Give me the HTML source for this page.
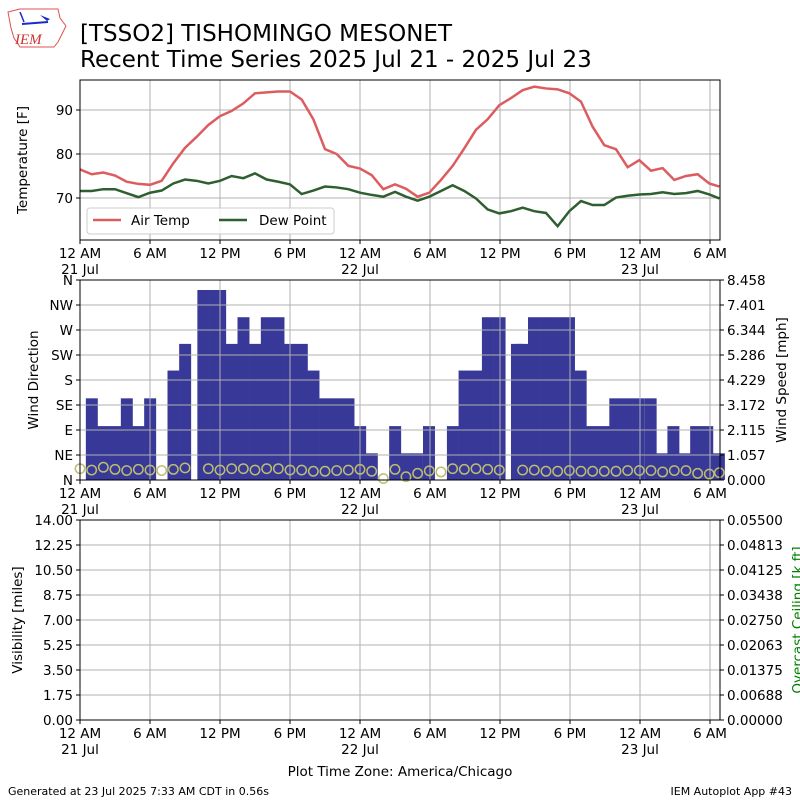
<!DOCTYPE html>
<html><head><meta charset="utf-8"><style>
body{margin:0;background:#fff}
svg{display:block;font-family:"DejaVu Sans","Liberation Sans",sans-serif}
</style></head><body>
<svg id="c" width="800" height="800" viewBox="0 0 800 800" xmlns="http://www.w3.org/2000/svg">
<g>
<path d="M8 12 L20 9 L58 9 L60 18 L66 26 L62 34 L58 42 L54 47 L20 47 L14 38 L11 28 Z" fill="none" stroke="#e05050" stroke-width="1"/>
<line x1="22" y1="24" x2="48" y2="22" stroke="#1a2bc8" stroke-width="2"/>
<line x1="20" y1="12" x2="24" y2="22" stroke="#1a2bc8" stroke-width="1.5"/>
<path d="M40 15 L50 19 L47 21 Z" fill="#1a2bc8"/>
<text x="15" y="44" font-family="Liberation Serif,serif" font-style="italic" font-size="15" fill="#d03030">IEM</text>
</g>
<text x="80" y="41" font-size="23" fill="#000">[TSSO2] TISHOMINGO MESONET</text>
<text x="80" y="67" font-size="23" fill="#000">Recent Time Series 2025 Jul 21 - 2025 Jul 23</text>
<g id="p1"></g>
<g id="p2"></g>
<g id="p3"></g>
<text x="400" y="776" text-anchor="middle" font-size="13.5">Plot Time Zone: America/Chicago</text>
<text x="8" y="795" font-size="11">Generated at 23 Jul 2025 7:33 AM CDT in 0.56s</text>
<text x="792" y="795" font-size="11" text-anchor="end">IEM Autoplot App #43</text>
</svg>
<script>
const tempTimes = [0,1,2,3,4,5,6,7,8,9,10,11,12,13,14,15,16,17,18,19,20,21,22,23,24,25,26,27,
27.94,28.94,29.94,30.94,31.94,32.94,33.94,34.94,35.94,36.94,37.94,38.94,39.94,40.94,41.94,42.94,43.94,44.94,45.94,46.94,47.94,48.94,49.94,50.94,51.94,52.94,53.94,54.8];
const airTemp = [76.5,75.4,75.8,75.1,73.7,73.2,73.0,73.9,77.9,81.4,83.9,86.6,88.6,89.8,91.5,93.8,94.0,94.2,94.2,92.4,87.9,81.1,80.0,77.3,76.7,75.2,72.0,73.1,
72.1,70.3,71.2,74.1,77.3,81.3,85.5,87.9,91.1,92.7,94.5,95.3,94.9,94.7,93.8,91.9,86.2,82.0,81.1,77.0,78.6,76.2,76.8,74.1,75.0,75.4,73.3,72.6];
const dewPoint = [71.6,71.6,72.0,72.0,71.1,70.2,71.2,71.7,73.3,74.2,73.9,73.3,73.9,75.0,74.5,75.6,74.2,73.7,73.1,70.9,71.7,72.6,72.4,72.0,71.2,70.7,70.3,71.4,
70.3,69.4,70.3,71.6,72.9,71.6,69.9,67.4,66.5,67.0,67.8,67.0,66.6,63.6,67.0,69.3,68.4,68.4,70.1,70.5,70.8,70.9,71.3,70.9,71.1,71.6,70.8,69.9];
const dirTimes = [1,2,3,4,5,6,8,9,10.56,11.56,12.0,13,14,15,16,17,18,19,20,21,22,23,24,25,27,27.93,28.87,29.9,31.95,32.95,33.95,34.95,35.95,37.44,37.9,38.9,39.9,40.9,41.9,42.9,43.9,44.87,45.87,46.87,47.87,48.9,49.9,50.85,51.8,52.8,53.75,54.75];
const windDir = [147,97,97,147,97,147,197,245,342,342,342,245,293,245,293,293,245,245,197,147,147,147,97,48,97,48,48,97,97,197,197,293,293,245,245,293,293,293,293,197,97,97,147,147,147,147,48,97,48,97,97,48];
const spdTimes = [0,1,2,3,4,5,6,7,8,9,11,12,13,14,15,16,17,18,19,20,21,22,23,24,25,26,27,
27.94,28.94,29.94,30.94,31.94,32.94,33.94,34.94,35.94,37.94,38.94,39.94,40.94,41.94,42.94,43.94,44.94,45.94,46.94,47.94,48.94,49.94,50.94,51.94,52.94,53.94,54.8];
const windSpd = [0.48,0.42,0.54,0.45,0.40,0.45,0.42,0.40,0.45,0.51,0.48,0.42,0.48,0.48,0.42,0.48,0.48,0.42,0.42,0.37,0.37,0.40,0.42,0.45,0.37,0.06,0.45,
0.14,0.28,0.39,0.34,0.48,0.45,0.48,0.45,0.42,0.42,0.42,0.37,0.37,0.40,0.37,0.37,0.37,0.37,0.40,0.40,0.40,0.34,0.40,0.40,0.28,0.25,0.31];
const xTickHours = [0,6,12,18,24,30,36,42,48,54];
const xTickLabels = ["12 AM","6 AM","12 PM","6 PM","12 AM","6 AM","12 PM","6 PM","12 AM","6 AM"];
const xTickDates = ["21 Jul","","","","22 Jul","","","","23 Jul",""];
const tempTicks = [70,80,90];
const dirTicks = [0,45,90,135,180,225,270,315,360];
const dirLabels = ["N","NE","E","SE","S","SW","W","NW","N"];
const spdTicks = ["0.000","1.057","2.115","3.172","4.229","5.286","6.344","7.401","8.458"];
const visTicks = ["0.00","1.75","3.50","5.25","7.00","8.75","10.50","12.25","14.00"];
const ceilTicks = ["0.00000","0.00688","0.01375","0.02063","0.02750","0.03438","0.04125","0.04813","0.05500"];

const NS="http://www.w3.org/2000/svg";
const L=80,R=720,XMAX=54.857;
const xs=h=>L+(h/XMAX)*(R-L);
function mk(tag,attrs,parent,txt){const e=document.createElementNS(NS,tag);for(const k in attrs)e.setAttribute(k,attrs[k]);if(txt!==undefined)e.textContent=txt;parent.appendChild(e);return e;}
function xaxis(g,top,bot){
  xTickHours.forEach((h,i)=>{
    const x=xs(h);
    const gl=mk('line',{x1:x,x2:x,y1:top,y2:bot,stroke:'#b0b0b0','stroke-width':1},g);
    
    
    mk('line',{x1:x,x2:x,y1:bot,y2:bot+4,stroke:'#000'},g);
    const t=mk('text',{x:x,y:bot+18,'text-anchor':'middle','font-size':13.5},g,xTickLabels[i]);
    
    
    if(xTickDates[i]){const d=mk('text',{x:x,y:bot+34,'text-anchor':'middle','font-size':13.5},g,xTickDates[i]);
      
      }
  });
}
function frame(g,top,bot){const f=mk('rect',{x:L,y:top,width:R-L,height:bot-top,fill:'none',stroke:'#000','stroke-width':1},g);
  
  }
function ylabel(g,x,cy,txt,name,color){const t=mk('text',{x:x,y:cy,'text-anchor':'middle','font-size':13.5,fill:color||'#000',transform:`rotate(-90 ${x} ${cy})`},g,txt);
  
  }

// Panel 1
(function(){
  const g=document.getElementById('p1'),T=80,B=240;
  const ys=v=>198-(v-70)*4.4;
  xaxis(g,T,B);
  tempTicks.forEach(v=>{const y=ys(v);
    const gl=mk('line',{x1:L,x2:R,y1:y,y2:y,stroke:'#b0b0b0'},g);
    
    
    mk('line',{x1:L-4,x2:L,y1:y,y2:y,stroke:'#000'},g);
    const t=mk('text',{x:L-7,y:y+5,'text-anchor':'end','font-size':13.5},g,String(v));
    
    });
  const clip=mk('clipPath',{id:'cp1'},g);mk('rect',{x:L,y:T,width:R-L,height:B-T},clip);
  const pa=tempTimes.map((h,i)=>xs(h)+','+ys(airTemp[i])).join(' ');
  const l1=mk('polyline',{points:pa,fill:'none',stroke:'#dc5c60','stroke-width':2.5,'clip-path':'url(#cp1)'},g);
  
  
  const pd=tempTimes.map((h,i)=>xs(h)+','+ys(dewPoint[i])).join(' ');
  const l2=mk('polyline',{points:pd,fill:'none',stroke:'#2f5f30','stroke-width':2.5,'clip-path':'url(#cp1)'},g);
  
  
  const lg=mk('g',{},g);
  
  
  mk('rect',{x:87,y:208,width:247,height:26,rx:3,fill:'#fff','fill-opacity':0.85,stroke:'#ccc'},lg);
  mk('line',{x1:93,x2:121,y1:220,y2:220,stroke:'#dc5c60','stroke-width':2.5},lg);
  const a=mk('text',{x:131,y:225,'font-size':13.5},lg,'Air Temp');
  
  
  mk('line',{x1:219,x2:247,y1:220,y2:220,stroke:'#2f5f30','stroke-width':2.5},lg);
  const d=mk('text',{x:259,y:225,'font-size':13.5},lg,'Dew Point');
  
  
  frame(g,T,B);
  ylabel(g,27,160,'Temperature [F]','y-axis-title-temperature');
})();

// Panel 2
(function(){
  const g=document.getElementById('p2'),T=280,B=480;
  const yd=v=>B-(v/360)*(B-T);
  const SMAX=8.458;const ysp=v=>B-(v/SMAX)*(B-T);
  const hw=(xs(1)-xs(0))/2;
  dirTimes.forEach((h,i)=>{const y=yd(windDir[i]);
    const r=mk('rect',{x:xs(h)-hw,y:y,width:hw*2+0.3,height:B-y,fill:'#383898'},g);
    
    });
  xaxis(g,T,B);
  dirTicks.forEach((v,i)=>{const y=yd(v);
    const gl=mk('line',{x1:L,x2:R,y1:y,y2:y,stroke:'#b0b0b0'},g);
    
    
    mk('line',{x1:L-4,x2:L,y1:y,y2:y,stroke:'#000'},g);
    const t=mk('text',{x:L-7,y:y+5,'text-anchor':'end','font-size':13.5},g,dirLabels[i]);
    
    
    mk('line',{x1:R,x2:R+4,y1:y,y2:y,stroke:'#000'},g);
    const t2=mk('text',{x:R+7,y:y+5,'font-size':13.5},g,spdTicks[i]);
    
    });
  spdTimes.forEach((h,i)=>{if(i>=windSpd.length)return;
    const c=mk('circle',{cx:xs(h),cy:ysp(windSpd[i]),r:4.7,fill:'none',stroke:'#bdbd70','stroke-width':1.5},g);
    
    });
  frame(g,T,B);
  ylabel(g,38,380,'Wind Direction','y-axis-title-wind-direction');
  ylabel(g,786,380,'Wind Speed [mph]','y-axis-title-wind-speed');
})();

// Panel 3
(function(){
  const g=document.getElementById('p3'),T=520,B=720;
  xaxis(g,T,B);
  visTicks.forEach((v,i)=>{const y=B-i*25;
    const gl=mk('line',{x1:L,x2:R,y1:y,y2:y,stroke:'#b0b0b0'},g);
    
    
    mk('line',{x1:L-4,x2:L,y1:y,y2:y,stroke:'#000'},g);
    const t=mk('text',{x:L-7,y:y+5,'text-anchor':'end','font-size':13.5},g,v);
    
    
    mk('line',{x1:R,x2:R+4,y1:y,y2:y,stroke:'#000'},g);
    const t2=mk('text',{x:R+7,y:y+5,'font-size':13.5},g,ceilTicks[i]);
    
    });
  frame(g,T,B);
  ylabel(g,22,620,'Visibility [miles]','y-axis-title-visibility');
  ylabel(g,802,620,'Overcast Ceiling [k ft]','y-axis-title-ceiling','#008000');
})();
</script>
</body></html>
